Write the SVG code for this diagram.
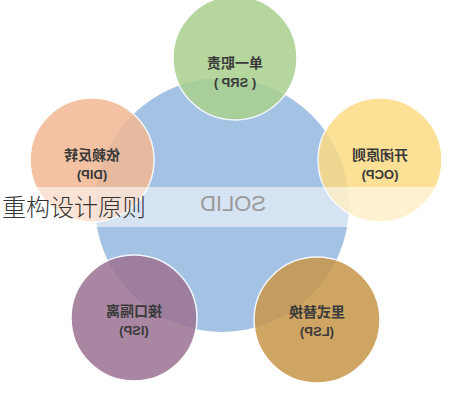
<svg xmlns="http://www.w3.org/2000/svg" width="464" height="400" viewBox="0 0 464 400">
<style>
.c{stroke:#ffffff;stroke-width:1.5;opacity:0.86}
.t{font-family:"Noto Sans CJK SC","Liberation Sans",sans-serif;font-size:14px;font-weight:bold;fill:#3a3a3a;text-anchor:middle}
.e{font-family:"Liberation Sans",sans-serif;font-size:13px;font-weight:bold;fill:#3a3a3a;text-anchor:middle}
</style>
<rect width="464" height="400" fill="#ffffff"/>
<g id="solid">
<circle cx="222" cy="205" r="127" fill="#a4c2e3"/>
</g>
<g id="srp">
<circle class="c" cx="235" cy="58" r="62" fill="#a9d18e"/>
<g transform="translate(235,0) scale(-1,1)">
<text class="t" x="0" y="68">单一职责</text>
<text class="e" x="0" y="87">( SRP )</text>
</g>
</g>
<g id="ocp">
<circle class="c" cx="380" cy="160" r="62" fill="#fbdb84"/>
<g transform="translate(380,0) scale(-1,1)">
<text class="t" x="0" y="160">开闭原则</text>
<text class="e" x="0" y="179">(OCP)</text>
</g>
</g>
<g id="dip">
<circle class="c" cx="92" cy="160" r="62" fill="#f2b994"/>
<g transform="translate(92,0) scale(-1,1)">
<text class="t" x="0" y="160">依赖反转</text>
<text class="e" x="0" y="179">(DIP)</text>
</g>
</g>
<g id="isp">
<circle class="c" cx="134" cy="318" r="63" fill="#9c7495"/>
<g transform="translate(134,0) scale(-1,1)">
<text class="t" x="0" y="316">接口隔离</text>
<text class="e" x="0" y="335">(ISP)</text>
</g>
</g>
<g id="lsp">
<circle class="c" cx="317" cy="320" r="63" fill="#c8974a"/>
<g transform="translate(317,0) scale(-1,1)">
<text class="t" x="0" y="317">里式替换</text>
<text class="e" x="0" y="336">(LSP)</text>
</g>
</g>
<g id="connectors"></g>
<rect x="0" y="187" width="464" height="40" fill="#ffffff" opacity="0.55"/>
<g transform="translate(233,0) scale(-1,1)">
<text x="0" y="211" font-family="Liberation Sans,sans-serif" font-size="22" fill="#9a9a9a" text-anchor="middle">SOLID</text>
</g>
<text x="2" y="216" font-family="Noto Sans CJK SC,sans-serif" font-size="24" font-weight="300" fill="#333333">重构设计原则</text>
</svg>
